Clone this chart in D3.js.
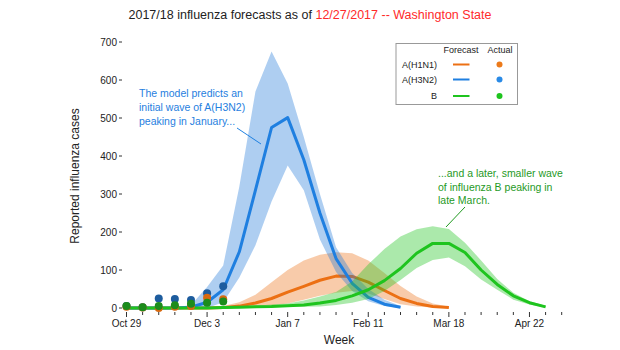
<!DOCTYPE html>
<html><head><meta charset="utf-8">
<script src="https://cdn.jsdelivr.net/npm/d3@7"></script>
<style>body{margin:0;background:#fff;}svg{display:block;font-family:"Liberation Sans",Arial,sans-serif;}</style>
</head><body><svg id="c" width="620" height="350"></svg>
<script>
// week index 0 = Oct 29, 2017
const tickWeeks = d3.range(0, 28);
const labelWeeks = [0, 5, 10, 15, 20, 25];
const tickLabels = ["Oct 29", "Dec 3", "Jan 7", "Feb 11", "Mar 18", "Apr 22"];
const yTicks = [0, 100, 200, 300, 400, 500, 600, 700];

// forecasts (median, lower, upper)
const h1n1Weeks = d3.range(0, 21);
const h1n1Mid = [0,0,0,0,0,0,1,5,13,25,42,57,73,84,83,68,46,25,12,4,1];
const h1n1Lo  = [0,0,0,0,0,0,0,1,3,7,12,22,32,40,45,38,24,10,4,1,0];
const h1n1Hi  = [0,0,0,0,0,2,5,15,35,68,100,125,140,147,144,125,92,58,30,12,3];

const h3n2Weeks = d3.range(0, 18);
const h3n2Mid = [0,0,0,0,2,15,48,148,310,475,501,390,250,130,65,28,10,2];
const h3n2Lo  = [0,0,0,0,0,0,15,80,165,280,375,310,180,95,45,18,5,0];
const h3n2Hi  = [0,0,0,1,8,55,112,320,570,675,591,450,300,160,92,50,22,5];

const bWeeks = d3.range(0, 27);
const bMid = [0,0,0,0,0,0,1,2,3,4,6,8,13,20,32,48,72,104,144,170,170,146,100,62,32,14,3];
const bLo  = [0,0,0,0,0,0,0,0,1,2,3,3,4,8,14,24,45,74,105,126,133,110,75,48,22,9,1];
const bHi  = [0,0,0,0,0,1,2,4,6,9,12,20,30,42,70,115,155,188,207,215,208,172,125,76,40,18,6];

// actual observations (weeks 0-6)
const actualWeeks = [0,1,2,3,4,5,6];
const h1n1Actual = [3,1,0,3,5,27,23];
const h3n2Actual = [5,2,25,24,21,39,57];
const bActual    = [5,2,5,7,11,14,17];

const seriesNames = ["A(H1N1)", "A(H3N2)", "B"];
const lineColors = ["#ec7014", "#1f7fe0", "#1ec41e"];
const bandColors = ["#ec7014", "#1f78d8", "#22c422"];
const dotColors = ["#d8680f", "#1d5c9e", "#1c8c1c"];
const legendDotColors = ["#ec7a1a", "#2a8ae6", "#1ec41e"];

const svg = d3.select("#c");
const x = d3.scaleLinear().domain([0, 27]).range([126.5, 561.7]);
const y = d3.scaleLinear().domain([0, 700]).range([308, 42]);

// title
const title = svg.append("text").attr("x", 310).attr("y", 19).attr("text-anchor", "middle")
  .attr("font-size", 12.5);
title.append("tspan").attr("fill", "#222").text("2017/18 influenza forecasts as of ");
title.append("tspan").attr("fill", "#ff2a2a").text("12/27/2017 -- Washington State");

// y axis
const ya = svg.append("g").attr("font-size", 10).attr("fill", "#222");
yTicks.forEach(t => {
  ya.append("text").attr("x", 117).attr("y", y(t) + 3.5).attr("text-anchor", "end").text(t);
  ya.append("line").attr("x1", 119).attr("x2", 122).attr("y1", y(t)).attr("y2", y(t))
    .attr("stroke", "#333").attr("stroke-width", 1);
});
// x axis
const xa = svg.append("g");
tickWeeks.forEach(w => {
  const lab = labelWeeks.includes(w);
  xa.append("line").attr("x1", x(w)).attr("x2", x(w)).attr("y1", 312).attr("y2", lab ? 317 : 315)
    .attr("stroke", "#333").attr("stroke-width", 1);
});
labelWeeks.forEach((w, i) => {
  xa.append("text").attr("x", x(w)).attr("y", 327).attr("text-anchor", "middle")
    .attr("font-size", 10).attr("fill", "#222").text(tickLabels[i]);
});
svg.append("text").attr("x", 339).attr("y", 344).attr("text-anchor", "middle")
  .attr("font-size", 12).attr("fill", "#222").text("Week");
svg.append("text").attr("transform", "translate(79,176) rotate(-90)").attr("text-anchor", "middle")
  .attr("font-size", 12).attr("fill", "#222").text("Reported influenza cases");

const area = d3.area().x(d => x(d.w)).y0(d => y(d.lo)).y1(d => y(d.hi));
const line = d3.line().x(d => x(d.w)).y(d => y(d.v));

const series = [
  {weeks: h1n1Weeks, mid: h1n1Mid, lo: h1n1Lo, hi: h1n1Hi},
  {weeks: h3n2Weeks, mid: h3n2Mid, lo: h3n2Lo, hi: h3n2Hi},
  {weeks: bWeeks, mid: bMid, lo: bLo, hi: bHi}
];
const bandOp = [0.36, 0.36, 0.38];
series.forEach((s, i) => {
  svg.append("path").attr("d", area(s.weeks.map((w, j) => ({w, lo: s.lo[j], hi: s.hi[j]}))))
    .attr("fill", bandColors[i]).attr("fill-opacity", bandOp[i]);
  svg.append("path").attr("d", line(s.weeks.map((w, j) => ({w, v: s.mid[j]}))))
    .attr("fill", "none").attr("stroke", lineColors[i]).attr("stroke-width", 3)
    .attr("stroke-linejoin", "round");
});

// actual dots
[h3n2Actual, h1n1Actual, bActual].forEach((arr, k) => {
  const ci = [1, 0, 2][k];
  svg.append("g").selectAll("circle").data(actualWeeks).join("circle")
    .attr("cx", w => x(w)).attr("cy", (w, j) => y(arr[j])).attr("r", 4)
    .attr("fill", dotColors[ci]);
});

// annotations
const ann1 = ["The model predicts an", "initial wave of A(H3N2)", "peaking in January..."];
ann1.forEach((t, i) => svg.append("text").attr("x", 139).attr("y", 97 + i * 14)
  .attr("font-size", 10.5).attr("fill", "#1f80e0").text(t));
svg.append("line").attr("x1", 237).attr("y1", 128).attr("x2", 261).attr("y2", 144)
  .attr("stroke", "#1f80e0").attr("stroke-width", 1);
const ann2 = ["...and a later, smaller wave", "of influenza B peaking in", "late March."];
ann2.forEach((t, i) => svg.append("text").attr("x", 438).attr("y", 177 + i * 13.5)
  .attr("font-size", 10.5).attr("fill", "#1f9a1f").text(t));
svg.append("line").attr("x1", 465).attr("y1", 207).attr("x2", 446).attr("y2", 227)
  .attr("stroke", "#1f9a1f").attr("stroke-width", 1);

// legend
const lg = svg.append("g");
lg.append("rect").attr("x", 396).attr("y", 43.5).attr("width", 121.5).attr("height", 61)
  .attr("fill", "#fff").attr("stroke", "#999").attr("stroke-width", 1);
lg.append("text").attr("x", 461).attr("y", 53).attr("text-anchor", "middle").attr("font-size", 9).attr("fill", "#222").text("Forecast");
lg.append("text").attr("x", 500).attr("y", 53).attr("text-anchor", "middle").attr("font-size", 9).attr("fill", "#222").text("Actual");
const rowY = [64.5, 79.5, 96];
seriesNames.forEach((n, i) => {
  lg.append("text").attr("x", 437).attr("y", rowY[i] + 3.2).attr("text-anchor", "end")
    .attr("font-size", 9).attr("fill", "#222").text(n);
  lg.append("line").attr("x1", 453).attr("x2", 469.5).attr("y1", rowY[i]).attr("y2", rowY[i])
    .attr("stroke", lineColors[i]).attr("stroke-width", 2);
  lg.append("circle").attr("cx", 499.5).attr("cy", rowY[i]).attr("r", 3).attr("fill", legendDotColors[i]);
});
</script></body></html>
